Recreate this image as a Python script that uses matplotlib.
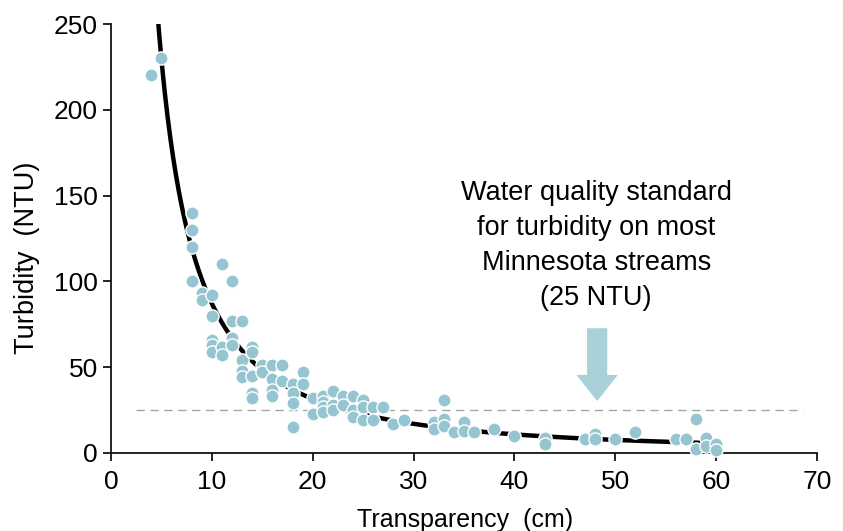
import matplotlib.pyplot as plt
import numpy as np
from matplotlib.patches import FancyArrow

# transparency (cm) and turbidity (NTU)
transparency = [
    4, 5, 8, 8, 8, 8, 9, 9, 10, 10, 11, 12, 12, 13, 10, 10, 10, 11, 11, 12,
    12, 13, 13, 13, 14, 14, 14, 14, 14, 15, 15, 16, 16, 16, 16, 17, 17, 18,
    18, 18, 18, 19, 19, 20, 20, 21, 21, 21, 21, 22, 22, 22, 23, 23, 24, 24,
    24, 25, 25, 25, 26, 26, 27, 28, 29, 32, 32, 33, 33, 33, 34, 35, 35, 36,
    38, 40, 43, 43, 47, 48, 48, 50, 52, 56, 57, 58, 58, 59, 59, 60, 60,
]
turbidity = [
    220, 230, 140, 130, 120, 100, 93, 89, 92, 80, 110, 100, 77, 77, 66, 63, 59, 62, 57, 67,
    63, 54, 48, 44, 62, 59, 45, 35, 32, 51, 47, 51, 43, 37, 33, 51, 42, 40,
    35, 29, 15, 47, 40, 32, 23, 33, 30, 27, 24, 36, 28, 25, 33, 28, 33, 25,
    21, 31, 27, 19, 27, 19, 27, 17, 19, 18, 14, 31, 20, 16, 12, 18, 13, 12,
    14, 10, 9, 5, 8, 11, 8, 8, 12, 8, 8, 20, 2.5, 8.5, 4, 5.5, 2,
]

# fitted curve, log(y) = c0 + c1*(log(x) - c_mid) + c2*(log(x) - c_mid)^2
fit_c0, fit_c1, fit_c2, fit_mid = 3.45, -1.502, -0.051, 2.996
fit_range = (4.5, 60.0)

standard_ntu = 25
note = "Water quality standard\nfor turbidity on most\nMinnesota streams\n(25 NTU)"

x_ticks = [0, 10, 20, 30, 40, 50, 60, 70]
y_ticks = [0, 50, 100, 150, 200, 250]

point_color = "#96C5D2"
arrow_color = "#A9D1D8"

plt.rcParams["font.family"] = ["Liberation Sans", "DejaVu Sans"]

fig = plt.figure(figsize=(8.43, 5.31), dpi=100)
ax = fig.add_axes([0.1317, 0.1469, 0.8375, 0.8079])

xs = np.linspace(fit_range[0], fit_range[1], 400)
d = np.log(xs) - fit_mid
ax.plot(xs, np.exp(fit_c0 + fit_c1 * d + fit_c2 * d ** 2), color="black", linewidth=3.2, zorder=2)

ax.scatter(transparency, turbidity, s=90, color=point_color, edgecolor="white",
           linewidth=1.0, zorder=3, clip_on=False)

ax.hlines(standard_ntu, 2.5, 68.6, colors="#A6A6A6", linestyles=(0, (6, 4)), linewidth=1.0, zorder=1)

ax.add_patch(FancyArrow(48.2, 72.7, 0, -42.4, width=2.0, head_width=4.1, head_length=15.2,
                        length_includes_head=True, color=arrow_color, linewidth=0, zorder=2))
ax.text(48.1, 121, note, ha="center", va="center", fontsize=19.5, linespacing=1.44)

ax.set_xlim(0, 70)
ax.set_ylim(0, 250)
ax.set_xticks(x_ticks)
ax.set_yticks(y_ticks)
for side in ["top", "right"]:
    ax.spines[side].set_visible(False)
for side in ["left", "bottom"]:
    ax.spines[side].set_linewidth(1.2)
ax.tick_params(labelsize=19, length=6, width=1.2)
ax.tick_params(axis="x", pad=6)
ax.tick_params(axis="y", pad=3.5)

ax.set_xlabel("Transparency  (cm)", fontsize=18)
ax.set_ylabel("Turbidity  (NTU)", fontsize=19.5)
ax.xaxis.set_label_coords(0.501, -0.128)
ax.yaxis.set_label_coords(-0.10, 0.4545)

fig.savefig("out.png", dpi=100)
